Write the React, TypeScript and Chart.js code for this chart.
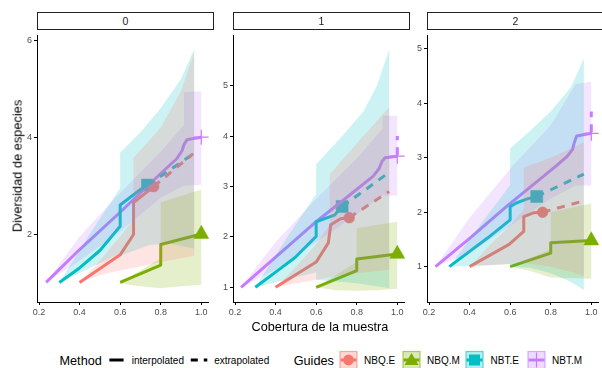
import React, { useEffect, useRef } from 'react';
import { Chart, registerables } from 'chart.js';

Chart.register(...registerables);

type Pt = [number, number];

const FONT = '"Liberation Sans", Arial, Helvetica, sans-serif';

// Guides (series) and their colours
const GUIDES = ['NBQ.E', 'NBQ.M', 'NBT.E', 'NBT.M'];
const GUIDE_COLORS = ['#F8766D', '#7CAE00', '#00BFC4', '#C77CFF'];
const GUIDE_RGB = ['248,118,109', '124,174,0', '0,191,196', '199,124,255'];

// Facets and axes
const FACET_LABELS = ['0', '1', '2'];
const X_RANGE = [0.19, 1.037];
const X_TICKS = [0.2, 0.4, 0.6, 0.8, 1.0];
const Y_RANGE_F0 = [0.596, 6.107];
const Y_RANGE_F1 = [0.708, 6.0];
const Y_RANGE_F2 = [0.351, 5.252];
const Y_TICKS_F0 = [2, 4, 6];
const Y_TICKS_F1 = [1, 2, 3, 4, 5];
const Y_TICKS_F2 = [1, 2, 3, 4, 5];

// ---------- Facet 0 ----------
const f0_nbqe_int: Pt[] = [[0.40, 1.0], [0.60, 1.57], [0.666, 1.99], [0.666, 2.65], [0.765, 2.98]];
const f0_nbqe_ext: Pt[] = [[0.765, 2.98], [0.96, 3.66]];
const f0_nbqe_obs: Pt = [0.765, 2.98];
const f0_nbqe_upper: Pt[] = [[0.40, 1.0], [0.50, 1.45], [0.60, 1.95], [0.666, 2.3], [0.666, 3.57], [0.80, 4.2], [0.90, 4.95], [0.965, 5.75]];
const f0_nbqe_lower: Pt[] = [[0.40, 1.0], [0.50, 1.15], [0.60, 1.25], [0.666, 1.3], [0.80, 1.42], [0.90, 1.5], [0.965, 1.55]];

const f0_nbqm_int: Pt[] = [[0.60, 1.0], [0.80, 1.36], [0.80, 1.785], [1.0, 2.0]];
const f0_nbqm_ext: Pt[] = [];
const f0_nbqm_obs: Pt = [1.0, 2.0];
const f0_nbqm_upper: Pt[] = [[0.60, 1.0], [0.80, 1.5], [0.80, 2.65], [1.0, 2.92]];
const f0_nbqm_lower: Pt[] = [[0.60, 0.98], [0.70, 0.92], [0.80, 0.88], [0.90, 0.92], [1.0, 0.95]];

const f0_nbte_int: Pt[] = [[0.30, 1.0], [0.40, 1.3], [0.50, 1.66], [0.60, 2.16], [0.60, 2.6], [0.70, 2.92], [0.735, 3.01]];
const f0_nbte_ext: Pt[] = [[0.735, 3.01], [0.955, 3.64]];
const f0_nbte_obs: Pt = [0.735, 3.01];
const f0_nbte_upper: Pt[] = [[0.30, 1.0], [0.45, 2.0], [0.60, 2.95], [0.60, 3.68], [0.70, 4.1], [0.80, 4.6], [0.90, 5.2], [0.965, 5.82]];
const f0_nbte_lower: Pt[] = [[0.30, 1.0], [0.45, 1.3], [0.60, 1.6], [0.60, 1.55], [0.75, 1.78], [0.85, 1.8], [0.965, 1.7]];

const f0_nbtm_int: Pt[] = [[0.235, 1.0], [0.40, 1.68], [0.60, 2.45], [0.80, 3.25], [0.88, 3.56], [0.905, 3.72], [0.915, 3.85], [0.93, 3.95], [1.0, 4.0]];
const f0_nbtm_ext: Pt[] = [];
const f0_nbtm_obs: Pt = [1.0, 4.0];
const f0_nbtm_upper: Pt[] = [[0.235, 1.0], [0.40, 1.95], [0.60, 2.85], [0.80, 3.7], [0.915, 4.25], [0.915, 4.93], [1.0, 4.95]];
const f0_nbtm_lower: Pt[] = [[0.235, 1.0], [0.40, 1.45], [0.60, 2.05], [0.80, 2.75], [0.915, 3.0], [1.0, 3.02]];

// ---------- Facet 1 ----------
const f1_nbqe_int: Pt[] = [[0.40, 1.0], [0.60, 1.5], [0.66, 1.88], [0.672, 2.24], [0.72, 2.36], [0.763, 2.38]];
const f1_nbqe_ext: Pt[] = [[0.763, 2.38], [0.96, 2.9]];
const f1_nbqe_obs: Pt = [0.763, 2.38];
const f1_nbqe_upper: Pt[] = [[0.40, 1.0], [0.50, 1.4], [0.60, 1.85], [0.667, 2.25], [0.667, 3.24], [0.80, 3.85], [0.96, 4.57]];
const f1_nbqe_lower: Pt[] = [[0.40, 1.0], [0.50, 1.08], [0.60, 1.15], [0.667, 1.2], [0.80, 1.28], [0.96, 1.35]];

const f1_nbqm_int: Pt[] = [[0.60, 1.0], [0.80, 1.33], [0.80, 1.56], [1.0, 1.66]];
const f1_nbqm_ext: Pt[] = [];
const f1_nbqm_obs: Pt = [1.0, 1.66];
const f1_nbqm_upper: Pt[] = [[0.60, 1.0], [0.80, 1.5], [0.80, 2.17], [1.0, 2.3]];
const f1_nbqm_lower: Pt[] = [[0.60, 1.0], [0.70, 0.94], [0.80, 0.93], [0.90, 0.94], [1.0, 0.97]];

const f1_nbte_int: Pt[] = [[0.30, 1.0], [0.40, 1.3], [0.496, 1.59], [0.60, 2.01], [0.60, 2.30], [0.69, 2.43], [0.728, 2.6]];
const f1_nbte_ext: Pt[] = [[0.728, 2.6], [0.96, 3.28]];
const f1_nbte_obs: Pt = [0.728, 2.6];
const f1_nbte_upper: Pt[] = [[0.30, 1.0], [0.45, 1.95], [0.60, 2.85], [0.60, 3.44], [0.72, 3.96], [0.832, 4.48], [0.90, 5.0], [0.96, 5.71]];
const f1_nbte_lower: Pt[] = [[0.30, 1.0], [0.50, 1.2], [0.60, 1.3], [0.60, 1.15], [0.80, 1.08], [0.96, 0.98]];

const f1_nbtm_int: Pt[] = [[0.23, 1.0], [0.40, 1.6], [0.60, 2.3], [0.75, 2.78], [0.88, 3.2], [0.91, 3.35], [0.925, 3.5], [0.94, 3.57], [1.0, 3.6]];
const f1_nbtm_ext: Pt[] = [[1.0, 3.62], [1.0, 4.0]];
const f1_nbtm_obs: Pt = [1.0, 3.6];
const f1_nbtm_upper: Pt[] = [[0.23, 1.0], [0.40, 1.9], [0.60, 2.75], [0.80, 3.55], [0.928, 4.15], [0.928, 4.4], [1.0, 4.4]];
const f1_nbtm_lower: Pt[] = [[0.23, 1.0], [0.40, 1.35], [0.60, 1.9], [0.80, 2.45], [0.928, 2.82], [1.0, 2.82]];

// ---------- Facet 2 ----------
const f2_nbqe_int: Pt[] = [[0.40, 1.0], [0.595, 1.41], [0.667, 1.65], [0.667, 1.92], [0.715, 1.99], [0.76, 2.0]];
const f2_nbqe_ext: Pt[] = [[0.76, 2.0], [0.965, 2.21]];
const f2_nbqe_obs: Pt = [0.76, 2.0];
const f2_nbqe_upper: Pt[] = [[0.40, 1.0], [0.50, 1.4], [0.60, 1.75], [0.667, 2.05], [0.667, 2.82], [0.80, 3.0], [0.963, 3.28]];
const f2_nbqe_lower: Pt[] = [[0.40, 1.0], [0.60, 1.05], [0.667, 1.07], [0.80, 1.0], [0.90, 0.9], [0.963, 0.83]];

const f2_nbqm_int: Pt[] = [[0.60, 1.0], [0.80, 1.25], [0.80, 1.44], [1.0, 1.48]];
const f2_nbqm_ext: Pt[] = [];
const f2_nbqm_obs: Pt = [1.0, 1.48];
const f2_nbqm_upper: Pt[] = [[0.60, 1.0], [0.80, 1.32], [0.80, 2.0], [1.0, 2.16]];
const f2_nbqm_lower: Pt[] = [[0.60, 1.0], [0.70, 0.92], [0.80, 0.8], [1.0, 0.78]];

const f2_nbte_int: Pt[] = [[0.30, 1.0], [0.49, 1.53], [0.60, 1.86], [0.60, 2.10], [0.63, 2.17], [0.68, 2.24], [0.731, 2.29]];
const f2_nbte_ext: Pt[] = [[0.731, 2.29], [0.963, 2.70]];
const f2_nbte_obs: Pt = [0.731, 2.29];
const f2_nbte_upper: Pt[] = [[0.30, 1.0], [0.45, 1.75], [0.60, 2.5], [0.60, 3.17], [0.70, 3.5], [0.80, 3.85], [0.90, 4.3], [0.963, 4.82]];
const f2_nbte_lower: Pt[] = [[0.30, 1.0], [0.60, 1.05], [0.60, 1.0], [0.70, 0.98], [0.80, 0.88], [0.90, 0.72], [0.963, 0.57]];

const f2_nbtm_int: Pt[] = [[0.232, 1.0], [0.40, 1.52], [0.587, 2.12], [0.827, 2.85], [0.88, 3.02], [0.907, 3.15], [0.918, 3.3], [0.928, 3.4], [1.0, 3.45]];
const f2_nbtm_ext: Pt[] = [[1.0, 3.47], [1.0, 3.85]];
const f2_nbtm_obs: Pt = [1.0, 3.45];
const f2_nbtm_upper: Pt[] = [[0.232, 1.0], [0.40, 1.9], [0.60, 2.8], [0.80, 3.6], [0.923, 4.35], [1.0, 4.4]];
const f2_nbtm_lower: Pt[] = [[0.232, 1.0], [0.40, 1.25], [0.60, 1.75], [0.80, 2.25], [0.923, 2.49], [1.0, 2.49]];

interface Series { int: Pt[]; ext: Pt[]; obs: Pt; upper: Pt[]; lower: Pt[] }
interface Facet { label: string; yRange: number[]; yTicks: number[]; series: Series[] }

const FACETS: Facet[] = [
  {
    label: FACET_LABELS[0], yRange: Y_RANGE_F0, yTicks: Y_TICKS_F0,
    series: [
      { int: f0_nbqe_int, ext: f0_nbqe_ext, obs: f0_nbqe_obs, upper: f0_nbqe_upper, lower: f0_nbqe_lower },
      { int: f0_nbqm_int, ext: f0_nbqm_ext, obs: f0_nbqm_obs, upper: f0_nbqm_upper, lower: f0_nbqm_lower },
      { int: f0_nbte_int, ext: f0_nbte_ext, obs: f0_nbte_obs, upper: f0_nbte_upper, lower: f0_nbte_lower },
      { int: f0_nbtm_int, ext: f0_nbtm_ext, obs: f0_nbtm_obs, upper: f0_nbtm_upper, lower: f0_nbtm_lower },
    ],
  },
  {
    label: FACET_LABELS[1], yRange: Y_RANGE_F1, yTicks: Y_TICKS_F1,
    series: [
      { int: f1_nbqe_int, ext: f1_nbqe_ext, obs: f1_nbqe_obs, upper: f1_nbqe_upper, lower: f1_nbqe_lower },
      { int: f1_nbqm_int, ext: f1_nbqm_ext, obs: f1_nbqm_obs, upper: f1_nbqm_upper, lower: f1_nbqm_lower },
      { int: f1_nbte_int, ext: f1_nbte_ext, obs: f1_nbte_obs, upper: f1_nbte_upper, lower: f1_nbte_lower },
      { int: f1_nbtm_int, ext: f1_nbtm_ext, obs: f1_nbtm_obs, upper: f1_nbtm_upper, lower: f1_nbtm_lower },
    ],
  },
  {
    label: FACET_LABELS[2], yRange: Y_RANGE_F2, yTicks: Y_TICKS_F2,
    series: [
      { int: f2_nbqe_int, ext: f2_nbqe_ext, obs: f2_nbqe_obs, upper: f2_nbqe_upper, lower: f2_nbqe_lower },
      { int: f2_nbqm_int, ext: f2_nbqm_ext, obs: f2_nbqm_obs, upper: f2_nbqm_upper, lower: f2_nbqm_lower },
      { int: f2_nbte_int, ext: f2_nbte_ext, obs: f2_nbte_obs, upper: f2_nbte_upper, lower: f2_nbte_lower },
      { int: f2_nbtm_int, ext: f2_nbtm_ext, obs: f2_nbtm_obs, upper: f2_nbtm_upper, lower: f2_nbtm_lower },
    ],
  },
];

// Marker shapes for the observed samples
const POINT_STYLES = ['circle', 'triangle', 'rect', 'cross'];
const POINT_RADII = [5.4, 8.7, 8.5, 7.5];

// Layout of the facet panels on the page
const PLOT_LEFTS = [37, 233, 427];
const PLOT_WIDTH = 177;
const PLOT_TOP = 30;
const PLOT_BOTTOM = 302;
const Y_AXIS_W = 37;
const X_AXIS_H = 24;
const PAD_TOP = 4;
const PAD_RIGHT = 4;

const toXY = (pts: Pt[]) => pts.map(([x, y]) => ({ x, y }));

function buildDatasets(series: Series[]) {
  const ds: any[] = [];
  series.forEach((s, i) => {
    const col = GUIDE_COLORS[i];
    // observed sample
    ds.push({
      label: GUIDES[i] + ' observed',
      data: toXY([s.obs]),
      showLine: false,
      pointStyle: POINT_STYLES[i],
      pointRadius: POINT_RADII[i],
      pointBackgroundColor: col,
      pointBorderColor: col,
      pointBorderWidth: i === 3 ? 1.2 : 0.5,
      order: 3,
    });
    // interpolated curve
    ds.push({
      label: GUIDES[i] + ' interpolated',
      data: toXY(s.int),
      showLine: true,
      borderColor: col,
      borderWidth: 3,
      borderCapStyle: 'butt',
      borderJoinStyle: 'round',
      pointRadius: 0,
      fill: false,
      order: 2,
    });
    // extrapolated curve
    if (s.ext.length) {
      ds.push({
        label: GUIDES[i] + ' extrapolated',
        data: toXY(s.ext),
        showLine: true,
        borderColor: col,
        borderWidth: 3,
        borderDash: [8, 7],
        borderCapStyle: 'butt',
        pointRadius: 0,
        fill: false,
        order: 2,
      });
    }
    // confidence band, closed polygon: upper edge then lower edge reversed
    ds.push({
      label: GUIDES[i] + ' band',
      data: toXY([...s.upper, ...s.lower.slice().reverse()]),
      showLine: true,
      borderColor: 'rgba(0,0,0,0)',
      borderWidth: 0,
      pointRadius: 0,
      backgroundColor: `rgba(${GUIDE_RGB[i]},0.2)`,
      fill: 'shape',
      order: 1,
    });
  });
  return ds;
}

function FacetChart({ facet }: { facet: Facet }) {
  const ref = useRef<HTMLCanvasElement>(null);
  useEffect(() => {
    if (!ref.current) return;
    const tickFont = { family: FONT, size: 9 };
    const chart = new Chart(ref.current, {
      type: 'scatter',
      data: { datasets: buildDatasets(facet.series) },
      options: {
        animation: false,
        responsive: true,
        maintainAspectRatio: false,
        devicePixelRatio: 1,
        events: [],
        layout: { padding: { top: PAD_TOP, right: PAD_RIGHT, bottom: 0, left: 0 } },
        plugins: { legend: { display: false }, tooltip: { enabled: false } },
        scales: {
          x: {
            type: 'linear',
            min: X_RANGE[0],
            max: X_RANGE[1],
            afterBuildTicks: (sc: any) => { sc.ticks = X_TICKS.map((v) => ({ value: v })); },
            afterFit: (sc: any) => { sc.height = X_AXIS_H; },
            ticks: {
              color: '#4D4D4D',
              font: tickFont,
              padding: 2,
              maxRotation: 0,
              autoSkip: false,
              callback: (v: any) => Number(v).toFixed(1),
            },
            grid: { drawOnChartArea: false, drawTicks: true, tickLength: 3, color: '#000' },
            border: { display: true, color: '#000', width: 1 },
          },
          y: {
            type: 'linear',
            min: facet.yRange[0],
            max: facet.yRange[1],
            afterBuildTicks: (sc: any) => { sc.ticks = facet.yTicks.map((v) => ({ value: v })); },
            afterFit: (sc: any) => { sc.width = Y_AXIS_W; },
            ticks: {
              color: '#4D4D4D',
              font: tickFont,
              padding: 2,
              autoSkip: false,
              callback: (v: any) => String(v),
            },
            grid: { drawOnChartArea: false, drawTicks: true, tickLength: 3, color: '#000' },
            border: { display: true, color: '#000', width: 1 },
          },
        },
      } as any,
    });
    return () => chart.destroy();
  }, [facet]);
  return <canvas ref={ref} />;
}

function LegendKey({ x, i }: { x: number; i: number }) {
  const col = GUIDE_COLORS[i];
  const rgb = GUIDE_RGB[i];
  const cx = x + 8.5;
  const cy = 10;
  let marker: React.ReactNode = null;
  if (i === 0) marker = <circle cx={cx} cy={cy} r={5.4} fill={col} />;
  if (i === 1) marker = <polygon points={`${cx},${cy - 7} ${cx + 7},${cy + 5} ${cx - 7},${cy + 5}`} fill={col} />;
  if (i === 2) marker = <rect x={cx - 5.5} y={cy - 5.5} width={11} height={11} fill={col} />;
  if (i === 3) marker = <line x1={cx} x2={cx} y1={cy - 7.5} y2={cy + 7.5} stroke={col} strokeWidth={1.2} />;
  return (
    <g>
      <rect x={x} y={1.5} width={17} height={17} fill={`rgba(${rgb},0.28)`} stroke={`rgba(${rgb},0.6)`} strokeWidth={1.2} />
      <line x1={x + 0.5} x2={x + 16.5} y1={cy} y2={cy} stroke={col} strokeWidth={3} />
      {marker}
    </g>
  );
}

function Legend() {
  const title = { fontSize: 12.7, fill: '#000', fontFamily: FONT } as any;
  const label = { fontSize: 10, fill: '#000', fontFamily: FONT } as any;
  const keyX = [340, 403, 466, 528];
  const labelX = [364, 427, 490.6, 552];
  return (
    <svg width={602} height={20} style={{ position: 'absolute', left: 0, top: 350 }}>
      <text x={59.5} y={14.5} {...title}>Method</text>
      <line x1={109.4} x2={123.6} y1={10} y2={10} stroke="#000" strokeWidth={3} />
      <text x={131.7} y={13.6} {...label}>interpolated</text>
      <line x1={190.8} x2={207.3} y1={10} y2={10} stroke="#000" strokeWidth={3} strokeDasharray="7 6" />
      <text x={214.2} y={13.6} {...label}>extrapolated</text>
      <text x={293.7} y={14.5} {...title}>Guides</text>
      {GUIDES.map((g, i) => (
        <g key={g}>
          <LegendKey x={keyX[i]} i={i} />
          <text x={labelX[i]} y={13.6} {...label}>{g}</text>
        </g>
      ))}
    </svg>
  );
}

export default function App() {
  const canvasW = Y_AXIS_W + PLOT_WIDTH + PAD_RIGHT;
  const canvasH = PAD_TOP + (PLOT_BOTTOM - PLOT_TOP) + X_AXIS_H;
  return (
    <div
      style={{
        position: 'fixed', left: 0, top: 0, width: 602, height: 368,
        overflow: 'hidden', background: '#fff', fontFamily: FONT,
      }}
    >
      {FACETS.map((f, k) => (
        <div
          key={'c' + k}
          style={{
            position: 'absolute', left: PLOT_LEFTS[k] - Y_AXIS_W, top: PLOT_TOP - PAD_TOP,
            width: canvasW, height: canvasH,
          }}
        >
          <FacetChart facet={f} />
        </div>
      ))}
      {FACETS.map((f, k) => (
        <div
          key={'s' + k}
          style={{
            position: 'absolute', left: PLOT_LEFTS[k], top: 12, width: PLOT_WIDTH, height: 18,
            boxSizing: 'border-box', border: '1px solid #222', background: '#fff',
            display: 'flex', alignItems: 'center', justifyContent: 'center',
            fontSize: 10.5, color: '#1A1A1A', lineHeight: 1,
          }}
        >
          {f.label}
        </div>
      ))}
      <div
        style={{
          position: 'absolute', left: 17.5, top: 166, transform: 'translate(-50%, -50%) rotate(-90deg)',
          whiteSpace: 'nowrap', fontSize: 12.8, color: '#000', lineHeight: 1,
        }}
      >
        Diversidad de especies
      </div>
      <div
        style={{
          position: 'absolute', left: 320, top: 327, transform: 'translate(-50%, -50%)',
          whiteSpace: 'nowrap', fontSize: 12.7, color: '#000', lineHeight: 1,
        }}
      >
        Cobertura de la muestra
      </div>
      <Legend />
    </div>
  );
}
